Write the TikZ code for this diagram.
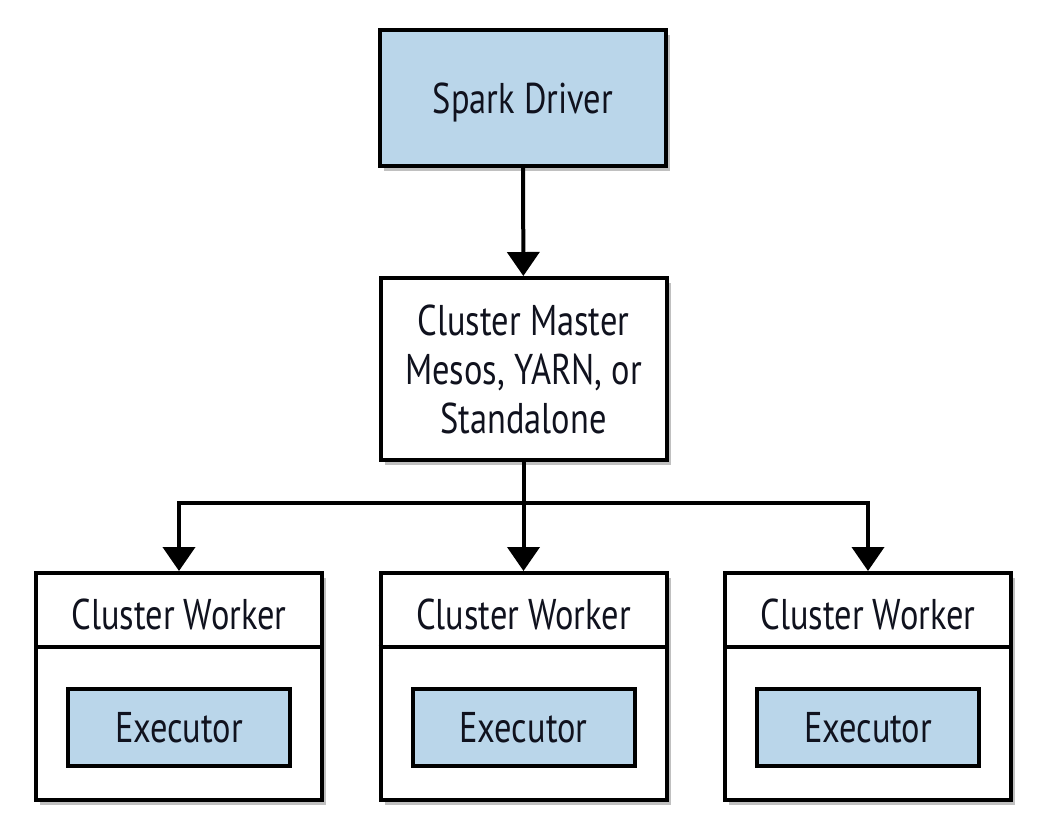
\documentclass[tikz,border=0pt]{standalone}
\usepackage{fontspec}
\setmainfont{PT Sans}[FakeStretch=0.8]
\usetikzlibrary{arrows.meta,shadows}
\definecolor{boxblue}{RGB}{186,214,234}
\definecolor{ink}{RGB}{16,18,30}
\begin{document}
\begin{tikzpicture}[x=1pt,y=-1pt,
  every node/.style={font=\fontsize{43}{49}\selectfont, text=ink},
  box/.style={draw=black, line width=4pt, fill=white, inner sep=0pt,
    drop shadow={shadow xshift=4pt, shadow yshift=-5pt, opacity=0.35, fill=black!70}},
  bluebox/.style={box, fill=boxblue},
  execbox/.style={draw=black, line width=4pt, fill=boxblue, inner sep=0pt,
    minimum width=222pt, minimum height=77pt, text depth=0pt},
  conn/.style={line width=4pt, draw=black},
  arr/.style={conn, -{Triangle[width=32pt,length=24pt]}}]
\useasboundingbox (0,0) rectangle (1057,833);
\fill[white] (0,0) rectangle (1057,833);

\node[bluebox, minimum width=286pt, minimum height=136pt, text depth=0pt] (driver) at (523,98) {Spark Driver};
\node[box, minimum width=286pt, minimum height=182pt, align=center] (master) at (523.5,369)
  {Cluster Master\\Mesos, YARN, or\\Standalone};
\coordinate (bus) at (523.5,503);

\foreach \i/\x in {1/179,2/523.5,3/868}{
  \node[box, minimum width=286pt, minimum height=227pt] (w\i) at (\x,686.5) {};
  \draw[conn] (w\i.west |- 0,647) -- (w\i.east |- 0,647);
  \node[text depth=0pt] (wl\i) at (\x,614) {Cluster Worker};
  \node[execbox] (e\i) at (\x,727) {Executor};
}

\draw[arr] (driver) -- (master);
\draw[conn] (master) -- (bus);
\draw[arr] (bus) -- (w2.north);
\draw[arr] (bus) -| (w1.north);
\draw[arr] (bus) -| (w3.north);
\end{tikzpicture}
\end{document}
